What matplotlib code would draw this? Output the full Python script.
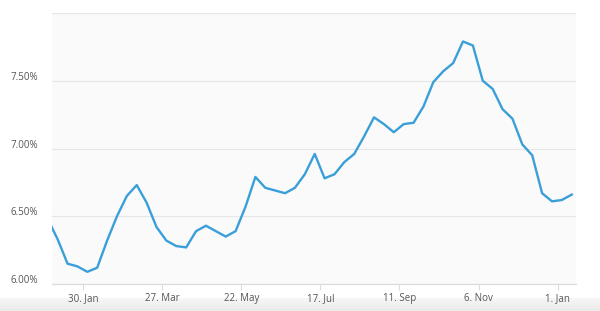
import matplotlib
matplotlib.use("Agg")
import matplotlib.pyplot as plt
import matplotlib.transforms as mtransforms
import numpy as np
import pandas as pd

# =====================
# Data (weekly 30-year rate, %)
# =====================
dates = pd.date_range("2023-01-05", periods=54, freq="7D")
rates = [6.48, 6.33, 6.15, 6.13, 6.09, 6.12, 6.32, 6.50, 6.65, 6.73,
         6.60, 6.42, 6.32, 6.28, 6.27, 6.39, 6.43, 6.39, 6.35, 6.39,
         6.57, 6.79, 6.71, 6.69, 6.67, 6.71, 6.81, 6.96, 6.78, 6.81,
         6.90, 6.96, 7.09, 7.23, 7.18, 7.12, 7.18, 7.19, 7.31, 7.49,
         7.57, 7.63, 7.79, 7.76, 7.50, 7.44, 7.29, 7.22, 7.03, 6.95,
         6.67, 6.61, 6.62, 6.66]

tick_dates = pd.date_range("2023-01-30", periods=7, freq="56D")
y_ticks = [6.0, 6.5, 7.0, 7.5, 8.0]
y_labels = ["6.00%", "6.50%", "7.00%", "7.50%", ""]

# =====================
# Figure
# =====================
fig = plt.figure(figsize=(6, 3.11), dpi=100)
fig.patch.set_facecolor("white")

# light grey band at the bottom
band = np.linspace(0, 1, 20).reshape(-1, 1)
bax = fig.add_axes([0, 0, 1, 0.042])
bax.imshow(band, aspect="auto", cmap=matplotlib.colors.LinearSegmentedColormap.from_list(
    "b", ["#f7f7f7", "#ebebeb"]), extent=[0, 1, 0, 1])
bax.axis("off")

ax = fig.add_axes([52 / 600, 27 / 311, 524 / 600, 271 / 311])
ax.set_facecolor("#fafafa")

ax.plot(dates, rates, color="#3a9fd8", lw=1.7, solid_joinstyle="round")

ax.set_xlim(pd.Timestamp("2023-01-08"), pd.Timestamp("2024-01-14"))
ax.set_ylim(6.0, 8.0)

# y labels sit a little above their grid lines
ax.set_yticks(y_ticks)
ax.set_yticklabels([])
ax.grid(axis="y", color="#e6e6e6", lw=0.8)
ax.set_axisbelow(True)
trans = mtransforms.blended_transform_factory(ax.transAxes, ax.transData)
shift = mtransforms.ScaledTranslation(0, 3.5 / 100, fig.dpi_scale_trans)
for yv, lab in zip(y_ticks, y_labels):
    ax.text(-14 / 524, yv, lab, transform=trans + shift, ha="right", va="center",
            fontsize=7, color="#555555", family="Open Sans")

ax.set_xticks(tick_dates)
ax.set_xticklabels([f"{d.day}. {d.strftime('%b')}" for d in tick_dates])

for s in ["left", "right", "top"]:
    ax.spines[s].set_visible(False)
ax.spines["bottom"].set_color("#dcdcdc")
ax.spines["bottom"].set_linewidth(0.9)

ax.tick_params(axis="y", length=0)
ax.tick_params(axis="x", length=4, color="#dcdcdc", pad=2.5, labelsize=7,
               labelcolor="#555555")
for lab in ax.get_xticklabels():
    lab.set_family("Open Sans")

plt.savefig("out.png", dpi=100)
